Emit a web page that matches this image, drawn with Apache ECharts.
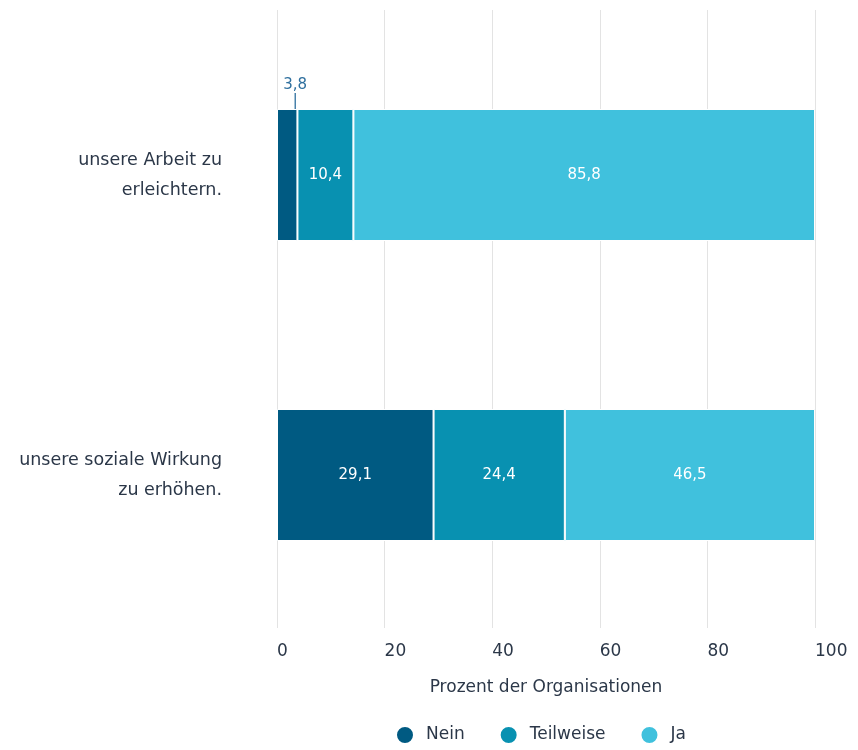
<!DOCTYPE html>
<html><head><meta charset="utf-8">
<script src="https://cdn.jsdelivr.net/npm/echarts@6/dist/echarts.min.js"></script>
<style>html,body{margin:0;padding:0;background:#fff}#c{width:858px;height:750px}</style>
</head><body><div id="c"></div>
<script>
const categories = ['unsere Arbeit zu\nerleichtern.', 'unsere soziale Wirkung\nzu erhöhen.'];
const nein = [3.8, 29.1];
const teilweise = [10.4, 24.4];
const ja = [85.8, 46.5];
const xTicks = [0, 20, 40, 60, 80, 100];
const colors = ['#005a82', '#0891b1', '#40c1dd'];
const fmt = v => String(v).replace('.', ',');
const font = '"DejaVu Sans", sans-serif';
const textColor = '#2b3748';

function mk(name, arr, color) {
  return {
    name, type: 'bar', stack: 'total', barWidth: '44%',
    itemStyle: { color, borderColor: '#fff', borderWidth: 1 },
    label: { show: true, position: 'inside', color: '#fff', fontSize: 15, fontFamily: font,
      formatter: p => fmt(p.value) },
    data: arr.map(v => v)
  };
}
const sNein = mk('Nein', nein, colors[0]);
sNein.data = nein.map((v, i) => v < 5 ? {
  value: v,
  label: { position: 'top', distance: 2, color: '#2e6f9e' }
} : v);
sNein.labelLine = { show: true, lineStyle: { color: '#2e6f9e', width: 1.3 } };
sNein.labelLayout = p => (p.dataIndex === 0 ? { dx: 8, dy: -14 } : {});

const chart = echarts.init(document.getElementById('c'));
chart.setOption({
  animation: false,
  textStyle: { fontFamily: font },
  grid: [
    { left: 277, right: 43, top: 25, bottom: 125, containLabel: false },
    { left: 277, right: 43, top: 10, bottom: 122, containLabel: false }
  ],
  legend: {
    bottom: 0, left: 390, icon: 'circle', itemWidth: 18, itemHeight: 18, itemGap: 34,
    textStyle: { color: textColor, fontSize: 17, fontFamily: font, padding: [0, 0, 0, 7] },
    data: ['Nein', 'Teilweise', 'Ja']
  },
  xAxis: [{
    type: 'value', min: 0, max: 100, interval: 20, gridIndex: 0,
    name: 'Prozent der Organisationen', nameLocation: 'middle', nameGap: 54,
    nameTextStyle: { color: textColor, fontSize: 17, fontFamily: font },
    axisLine: { show: false }, axisTick: { show: false },
    axisLabel: { color: textColor, fontSize: 17, margin: 18, align: 'left', fontFamily: font,
      formatter: v => xTicks.includes(v) ? String(v) : '' },
    splitLine: { show: false }
  }, {
    type: 'value', min: 0, max: 100, interval: 20, gridIndex: 1,
    axisLine: { show: false }, axisTick: { show: false }, axisLabel: { show: false },
    splitLine: { show: true, lineStyle: { color: '#e3e3e3', width: 1 } }
  }],
  yAxis: [{
    type: 'category', inverse: true, data: categories, gridIndex: 0,
    axisLine: { show: false }, axisTick: { show: false }, splitLine: { show: false },
    axisLabel: { color: textColor, fontSize: 17.5, lineHeight: 30, margin: 55, align: 'right', fontFamily: font }
  }, {
    type: 'value', gridIndex: 1, show: false, splitLine: { show: false }
  }],
  series: [sNein, mk('Teilweise', teilweise, colors[1]), mk('Ja', ja, colors[2])]
});
</script></body></html>
